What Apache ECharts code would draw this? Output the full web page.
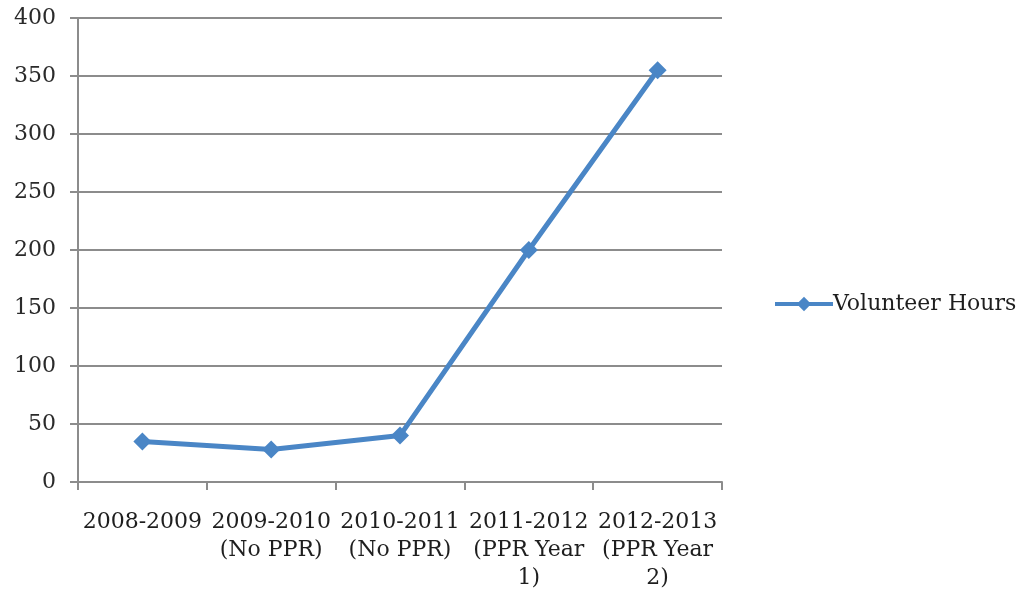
<!DOCTYPE html>
<html>
<head>
<meta charset="utf-8">
<script src="https://cdn.jsdelivr.net/npm/echarts@6/dist/echarts.min.js"></script>
<style>
  html, body { margin: 0; padding: 0; background: #fff; }
  #chart { width: 1019px; height: 596px; }
</style>
</head>
<body>
<div id="chart"></div>
<script>
// School years with their program status
var categories = [
  '2008-2009',
  '2009-2010\n(No PPR)',
  '2010-2011\n(No PPR)',
  '2011-2012\n(PPR Year\n1)',
  '2012-2013\n(PPR Year\n2)'
];
var seriesName = 'Volunteer Hours';
var volunteerHours = [35, 28, 40, 200, 355];
var yTicks = { min: 0, max: 400, interval: 50 };

var chart = echarts.init(document.getElementById('chart'));
var font = 'DejaVu Serif';
var gray = '#8c8c8c';
var blue = '#4a86c6';

chart.setOption({
  animation: false,
  backgroundColor: '#ffffff',
  grid: { left: 78, right: 297, top: 18, bottom: 114, containLabel: false },
  legend: {
    data: [seriesName],
    orient: 'vertical',
    left: 768,
    top: 288,
    itemWidth: 58,
    itemHeight: 18,
    itemGap: 0,
    lineStyle: { width: 4 },
    textStyle: { fontFamily: font, fontSize: 22, color: '#1e1e1e', padding: [0, 0, 0, -5] }
  },
  xAxis: {
    type: 'category',
    data: categories,
    boundaryGap: true,
    axisLine: { lineStyle: { color: gray, width: 2 } },
    axisTick: { show: true, length: 8, lineStyle: { color: gray, width: 2 } },
    axisLabel: {
      interval: 0,
      fontFamily: font,
      fontSize: 22,
      color: '#1e1e1e',
      lineHeight: 28,
      margin: 26
    },
    splitLine: { show: false }
  },
  yAxis: {
    type: 'value',
    min: yTicks.min,
    max: yTicks.max,
    interval: yTicks.interval,
    axisLine: { show: true, lineStyle: { color: gray, width: 2 } },
    axisTick: { show: true, length: 8, lineStyle: { color: gray, width: 2 } },
    axisLabel: { fontFamily: font, fontSize: 22, color: '#2a2a2a', margin: 22 },
    splitLine: { show: true, lineStyle: { color: gray, width: 2 } }
  },
  series: [{
    name: seriesName,
    type: 'line',
    data: volunteerHours,
    symbol: 'diamond',
    symbolSize: 18,
    lineStyle: { color: blue, width: 5 },
    itemStyle: { color: blue }
  }]
});
</script>
</body>
</html>
